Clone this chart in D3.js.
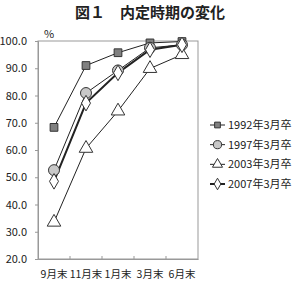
<!DOCTYPE html>
<html><head><meta charset="utf-8">
<script src="https://cdn.jsdelivr.net/npm/d3@7"></script>
<style>body{margin:0;background:#fff}svg{display:block}text{font-family:"Noto Sans CJK JP","Noto Sans",sans-serif}</style>
</head><body><svg id="c" width="300" height="287"></svg>
<script>
const categories = ["9月末","11月末","1月末","3月末","6月末"];
const s1992 = [68.3, 91.0, 95.7, 99.3, 99.8];
const s1997 = [52.6, 80.9, 89.2, 97.5, 98.6];
const s2003 = [33.5, 60.6, 74.3, 89.9, 95.0];
const s2007 = [48.5, 77.2, 88.3, 96.8, 98.6];
const seriesNames = ["1992年3月卒","1997年3月卒","2003年3月卒","2007年3月卒"];
const yTicks = [20,30,40,50,60,70,80,90,100];

const series = [
  {name: seriesNames[0], values: s1992, shape: d3.symbolSquare, size: 60, fill: "#808080", sw: 1},
  {name: seriesNames[1], values: s1997, shape: d3.symbolCircle, size: 95, fill: "#c8c8c8", sw: 1},
  {name: seriesNames[2], values: s2003, shape: d3.symbolTriangle, size: 80, fill: "#fff", sw: 1},
  {name: seriesNames[3], values: s2007, shape: d3.symbolDiamond, size: 70, fill: "#fff", sw: 2}
];

const svg = d3.select("#c");
const L = 38, R = 198, T = 41, B = 259;
const x = d3.scaleBand().domain(categories).range([L, R]);
const y = d3.scaleLinear().domain([20, 100]).range([B, T]);

svg.append("text").attr("x", 150).attr("y", 18).attr("text-anchor", "middle")
  .attr("font-size", 15).attr("font-weight", "bold").attr("fill", "#222").text("図１　内定時期の変化");

// frame
svg.append("rect").attr("x", L).attr("y", T).attr("width", R - L).attr("height", B - T)
  .attr("fill", "none").attr("stroke", "#999").attr("stroke-width", 1);

// y axis
const ya = svg.append("g").attr("transform", `translate(${L},0)`)
  .call(d3.axisLeft(y).tickValues(yTicks).tickFormat(d3.format(".1f")).tickSize(3).tickPadding(8));
ya.select(".domain").attr("stroke", "#999");
ya.selectAll(".tick line").attr("stroke", "#999");
ya.selectAll("text").attr("font-size", 11).attr("fill", "#222");

// x axis
const xa = svg.append("g").attr("transform", `translate(0,${B})`)
  .call(d3.axisBottom(x).tickSize(0).tickPadding(12));
xa.select(".domain").attr("stroke", "#999");
xa.selectAll("text").attr("font-size", 10.5).attr("fill", "#222");
// inner ticks between categories
svg.append("g").selectAll("line").data(categories.slice(1)).join("line")
  .attr("x1", d => x(d)).attr("x2", d => x(d)).attr("y1", B).attr("y2", B - 3)
  .attr("stroke", "#999");

svg.append("text").attr("x", 49).attr("y", 38).attr("text-anchor", "middle")
  .attr("font-size", 11).attr("fill", "#222").text("%");

const line = d3.line().x((d, i) => x(categories[i]) + x.bandwidth() / 2).y(d => y(d));

series.forEach(s => {
  svg.append("path").datum(s.values).attr("d", line).attr("fill", "none")
    .attr("stroke", "#222").attr("stroke-width", s.sw);
});
series.forEach(s => {
  svg.append("g").selectAll("path").data(s.values).join("path")
    .attr("transform", (d, i) => `translate(${x(categories[i]) + x.bandwidth() / 2},${y(d)})`)
    .attr("d", d3.symbol().type(s.shape).size(s.size))
    .attr("fill", s.fill).attr("stroke", "#333").attr("stroke-width", 1);
});

// legend
const lg = svg.append("g");
const ly = d3.scalePoint().domain(seriesNames).range([125, 184]);
series.forEach(s => {
  const yy = ly(s.name);
  lg.append("line").attr("x1", 210).attr("x2", 225).attr("y1", yy).attr("y2", yy)
    .attr("stroke", "#222").attr("stroke-width", s.sw);
  lg.append("path").attr("transform", `translate(217.5,${yy})`)
    .attr("d", d3.symbol().type(s.shape).size(s.size * 0.55))
    .attr("fill", s.fill).attr("stroke", "#333");
  lg.append("text").attr("x", 228).attr("y", yy + 4).attr("font-size", 11)
    .attr("fill", "#222").text(s.name);
});
</script></body></html>
